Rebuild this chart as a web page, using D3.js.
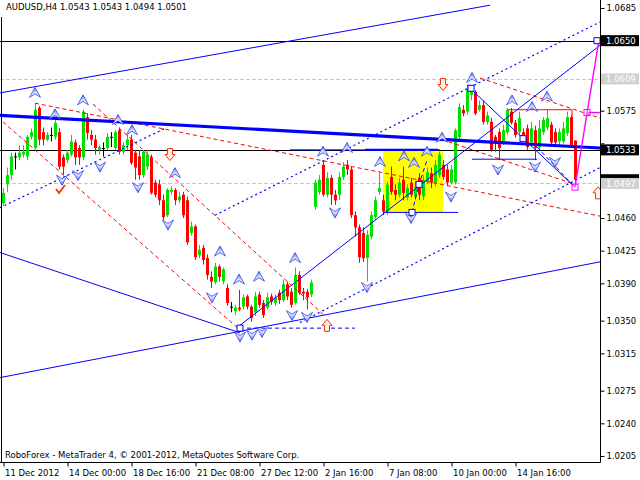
<!DOCTYPE html>
<html><head><meta charset="utf-8">
<script src="https://cdn.jsdelivr.net/npm/d3@7"></script>
<style>body{margin:0;background:#fff}svg{display:block}text{font-family:"DejaVu Sans",sans-serif;font-size:8.5px}</style>
</head><body><svg id="c" width="640" height="480"></svg>
<script>
// ---- data ----
const symbolTitle = "AUDUSD,H4  1.0543 1.0543 1.0494 1.0501";
const footerText = "RoboForex - MetaTrader 4, \u00a9 2001-2012, MetaQuotes Software Corp.";
const dateLabels = ["11 Dec 2012","14 Dec 00:00","18 Dec 16:00","21 Dec 08:00","27 Dec 12:00","2 Jan 16:00","7 Jan 08:00","10 Jan 00:00","14 Jan 16:00"];
const dateBars = [0,16,32,48,64,80,96,112,128];
const priceTicks = [1.0685,1.0650,1.0610,1.0575,1.0540,1.0500,1.0460,1.0425,1.0390,1.0350,1.0315,1.0275,1.0240,1.0205];
const hiddenTicks = [1.0650,1.0610,1.0540,1.0500];

const open = [1.0476,1.0496,1.0506,1.0526,1.0525,1.0528,1.0526,1.0547,1.0535,1.0578,
1.0552,1.0544,1.0549,1.0547,1.0552,1.0525,1.0522,1.0528,1.0541,1.0535,
1.0525,1.0568,1.0549,1.0544,1.0533,1.0535,1.0535,1.0547,1.0535,1.0554,
1.0531,1.0538,1.0544,1.0530,1.0526,1.0506,1.0515,1.0525,1.0498,1.0496,
1.0479,1.0463,1.0488,1.0490,1.0479,1.0485,1.0479,1.0444,1.0451,1.0420,
1.0428,1.0417,1.0397,1.0391,1.0408,1.0392,1.0385,1.0365,1.0360,1.0364,
1.0365,1.0376,1.0365,1.0359,1.0378,1.0369,1.0364,1.0376,1.0369,1.0380,
1.0372,1.0389,1.0381,1.0369,1.0399,1.0381,1.0381,1.0378,1.0472,1.0488,
1.0517,1.0485,1.0503,1.0485,1.0485,1.0504,1.0517,1.0512,1.0463,1.0450,
1.0444,1.0417,1.0440,1.0461,1.0488,1.0479,1.0467,1.0504,1.0490,1.0485,
1.0501,1.0482,1.0498,1.0483,1.0503,1.0483,1.0499,1.0508,1.0498,1.0506,
1.0517,1.0512,1.0498,1.0498,1.0547,1.0576,1.0574,1.0592,1.0595,1.0576,
1.0581,1.0563,1.0563,1.0547,1.0552,1.0542,1.0552,1.0574,1.0562,1.0552,
1.0552,1.0556,1.0541,1.0554,1.0536,1.0552,1.0557,1.0560,1.0552,1.0542,
1.0542,1.0551,1.0568,1.0543];
const high = [1.0492,1.0514,1.0530,1.0530,1.0538,1.0538,1.0549,1.0556,1.0583,1.0580,
1.0557,1.0552,1.0557,1.0567,1.0556,1.0528,1.0533,1.0549,1.0544,1.0538,
1.0576,1.0572,1.0554,1.0549,1.0538,1.0541,1.0551,1.0552,1.0554,1.0557,
1.0541,1.0549,1.0549,1.0533,1.0533,1.0533,1.0533,1.0528,1.0501,1.0501,
1.0485,1.0492,1.0494,1.0492,1.0488,1.0488,1.0483,1.0456,1.0453,1.0431,
1.0431,1.0421,1.0403,1.0412,1.0410,1.0407,1.0389,1.0370,1.0367,1.0383,
1.0378,1.0378,1.0367,1.0381,1.0381,1.0372,1.0380,1.0379,1.0378,1.0383,
1.0394,1.0392,1.0385,1.0407,1.0403,1.0385,1.0384,1.0394,1.0501,1.0506,
1.0521,1.0509,1.0506,1.0490,1.0509,1.0520,1.0522,1.0515,1.0467,1.0453,
1.0450,1.0447,1.0467,1.0483,1.0509,1.0485,1.0499,1.0515,1.0496,1.0503,
1.0515,1.0496,1.0503,1.0499,1.0508,1.0506,1.0514,1.0514,1.0522,1.0531,
1.0522,1.0517,1.0517,1.0556,1.0583,1.0581,1.0603,1.0599,1.0597,1.0586,
1.0586,1.0574,1.0567,1.0549,1.0556,1.0560,1.0578,1.0578,1.0565,1.0574,
1.0556,1.0560,1.0563,1.0559,1.0565,1.0568,1.0576,1.0563,1.0556,1.0556,
1.0563,1.0574,1.0570,1.0543];
const low = [1.0473,1.0488,1.0501,1.0512,1.0522,1.0525,1.0522,1.0544,1.0533,1.0538,
1.0538,1.0542,1.0542,1.0544,1.0512,1.0506,1.0519,1.0526,1.0517,1.0517,
1.0522,1.0544,1.0538,1.0528,1.0528,1.0526,1.0533,1.0536,1.0533,1.0528,
1.0528,1.0533,1.0517,1.0501,1.0501,1.0503,1.0512,1.0485,1.0482,1.0474,
1.0458,1.0461,1.0485,1.0474,1.0476,1.0460,1.0431,1.0441,1.0415,1.0417,
1.0410,1.0394,1.0385,1.0389,1.0392,1.0389,1.0366,1.0359,1.0356,1.0360,
1.0362,1.0362,1.0349,1.0355,1.0364,1.0353,1.0362,1.0367,1.0366,1.0368,
1.0370,1.0372,1.0364,1.0367,1.0378,1.0372,1.0362,1.0375,1.0469,1.0485,
1.0483,1.0482,1.0474,1.0474,1.0479,1.0501,1.0506,1.0460,1.0440,1.0412,
1.0413,1.0392,1.0437,1.0458,1.0485,1.0463,1.0463,1.0485,1.0479,1.0482,
1.0479,1.0479,1.0482,1.0479,1.0479,1.0479,1.0496,1.0492,1.0494,1.0503,
1.0501,1.0494,1.0496,1.0496,1.0544,1.0569,1.0571,1.0586,1.0570,1.0574,
1.0560,1.0560,1.0531,1.0531,1.0522,1.0538,1.0549,1.0560,1.0546,1.0549,
1.0542,1.0533,1.0537,1.0522,1.0533,1.0549,1.0554,1.0536,1.0537,1.0538,
1.0540,1.0548,1.0536,1.0494];
const close = [1.0487,1.0506,1.0526,1.0526,1.0530,1.0531,1.0547,1.0552,1.0576,1.0544,
1.0544,1.0549,1.0549,1.0562,1.0515,1.0515,1.0530,1.0542,1.0525,1.0525,
1.0574,1.0551,1.0544,1.0535,1.0536,1.0535,1.0547,1.0547,1.0552,1.0531,
1.0538,1.0544,1.0519,1.0514,1.0506,1.0531,1.0528,1.0487,1.0485,1.0479,
1.0461,1.0490,1.0490,1.0479,1.0483,1.0463,1.0434,1.0451,1.0418,1.0426,
1.0415,1.0399,1.0392,1.0408,1.0397,1.0405,1.0369,1.0365,1.0364,1.0362,
1.0375,1.0365,1.0353,1.0376,1.0367,1.0356,1.0375,1.0370,1.0375,1.0372,
1.0389,1.0376,1.0367,1.0399,1.0380,1.0379,1.0375,1.0391,1.0498,1.0501,
1.0485,1.0503,1.0485,1.0479,1.0504,1.0515,1.0512,1.0463,1.0450,1.0418,
1.0417,1.0442,1.0463,1.0479,1.0492,1.0467,1.0496,1.0488,1.0485,1.0498,
1.0487,1.0492,1.0485,1.0493,1.0485,1.0501,1.0509,1.0498,1.0517,1.0528,
1.0504,1.0498,1.0512,1.0554,1.0579,1.0572,1.0597,1.0597,1.0572,1.0581,
1.0563,1.0570,1.0533,1.0542,1.0535,1.0554,1.0576,1.0562,1.0549,1.0567,
1.0546,1.0536,1.0556,1.0535,1.0556,1.0565,1.0567,1.0541,1.0541,1.0552,
1.0556,1.0568,1.0538,1.0501];

// chart objects as [bar, price] points
const blackLevels = [1.0650, 1.0533];
const grayLevels = [1.0609, 1.0497];
const yellowBox = [[95,1.0533],[110,1.0466]];
const thickBlueLines = [[[-0.75,1.0570],[149.25,1.0535]]];
const mediumBlueLines = [[[90.5,1.0533],[108.75,1.0533]]];
const solidBlueLines = [
  [[-0.75,1.0594],[121.75,1.0688]],
  [[-0.75,1.0289],[149.25,1.0413]],
  [[-0.75,1.0423],[59.25,1.0337]],
  [[59.25,1.0345],[149.25,1.0645]],
  [[117.25,1.0597],[143,1.0493]],
  [[117.25,1.0523],[133.5,1.0523]],
  [[71.75,1.0533],[109.25,1.0533]],
  [[95,1.0466],[113.75,1.0466]]
];
const dottedBlueLines = [
  [[-0.75,1.0471],[41,1.0557]],
  [[53,1.0463],[149.25,1.0670]],
  [[74.25,1.0348],[149.25,1.0514]]
];
const dashedBlueLines = [
  [[61,1.0342],[88,1.0342]],
  [[133.5,1.0536],[143,1.0493]],
  [[102.25,1.0466],[104,1.0496],[106,1.0522]]
];
const dashedRedLines = [
  [[8,1.0583],[149.25,1.0462]],
  [[0,1.0563],[59.25,1.0340]],
  [[22.5,1.0582],[80.5,1.0355]],
  [[119.25,1.0610],[149.25,1.0567]],
  [[109.75,1.0544],[143,1.0496]]
];
const solidRedLines = [[[126.25,1.0576],[142.25,1.0576],[142.25,1.0566]]];
const magentaLines = [[[143,1.0493],[149,1.0651]],[[146,1.0573],[149.25,1.0573]]];
const magentaSquares = [[143,1.0493],[146,1.0573]];
const blueSquares = [[59.25,1.0342],[104,1.0496],[102.25,1.0466],[130,1.0545],[117,1.0599],[148.5,1.0650]];
const upChevrons = [[8,1.0594],[20,1.0586],[13,1.0571],[28.75,1.0565],[32.25,1.0554],[43,1.0508],
  [54.25,1.0424],[59,1.0394],[64,1.0397],[73,1.0417],[80,1.0531],[86,1.0535],[94.25,1.0520],
  [100.25,1.0526],[102.75,1.0519],[106,1.0531],[109.75,1.0546],[117.25,1.0610],[127.25,1.0586],
  [132.25,1.0579],[136,1.0590]];
const downChevrons = [[14.75,1.0501],[18.75,1.0506],[24.25,1.0515],[33.75,1.0493],[41.25,1.0453],
  [52.25,1.0375],[59.25,1.0333],[62.25,1.0335],[64.75,1.0338],[72.25,1.0356],[76,1.0354],
  [83,1.0466],[91,1.0386],[102,1.0460],[112,1.0483],[123.75,1.0512],[133,1.0515],[138,1.0520]];
const redDownArrows = [[41.75,1.0528],[110,1.0603]];
const redUpArrows = [[81,1.0345],[148.75,1.0487]];
const checkMarks = [[14.25,1.0490]];
const bidPrice = 1.0501;

// ---- drawing ----
const svg = d3.select('#c');
const W = 600, H = 462;
const x = d3.scaleLinear().domain([0,143]).range([3,575]);
const y = d3.scaleLinear().domain([1.0205,1.0685]).range([456,8]);
const ln = d3.line().x(d=>x(d[0])).y(d=>y(d[1]));

const defs = svg.append('defs');
defs.append('clipPath').attr('id','clip').append('rect').attr('width',W).attr('height',H);
const g = svg.append('g').attr('clip-path','url(#clip)');

// yellow rectangle
g.append('rect')
  .attr('x',x(yellowBox[0][0])).attr('y',y(yellowBox[0][1]))
  .attr('width',x(yellowBox[1][0])-x(yellowBox[0][0]))
  .attr('height',y(yellowBox[1][1])-y(yellowBox[0][1]))
  .attr('fill','#ffff00');

// horizontal levels
g.selectAll('.gl').data(grayLevels).join('line')
  .attr('x1',0).attr('x2',W).attr('y1',d=>Math.round(y(d))+0.5).attr('y2',d=>Math.round(y(d))+0.5)
  .attr('stroke','#c8c8c8').attr('stroke-dasharray','4,2');
g.selectAll('.bl').data(blackLevels).join('line')
  .attr('x1',0).attr('x2',W).attr('y1',d=>Math.round(y(d))+0.5).attr('y2',d=>Math.round(y(d))+0.5)
  .attr('stroke','#000');

// candles
const idx = d3.range(open.length);
const col = i => close[i]>open[i] ? '#00e000' : (close[i]<open[i] ? '#ff0000' : '#000000');
g.selectAll('.wick').data(idx).join('line')
  .attr('x1',i=>x(i)+0.5).attr('x2',i=>x(i)+0.5)
  .attr('y1',i=>y(high[i])).attr('y2',i=>y(low[i]))
  .attr('stroke',col).attr('stroke-width',1);
g.selectAll('.body').data(idx).join('rect')
  .attr('x',i=>x(i)-1).attr('width',3)
  .attr('y',i=>Math.min(y(open[i]),y(close[i])))
  .attr('height',i=>Math.max(1,Math.abs(y(open[i])-y(close[i]))))
  .attr('fill',col);

// lines
function drawLines(data, stroke, width, dash){
  g.selectAll(null).data(data).join('path').attr('d',ln).attr('fill','none')
    .attr('stroke',stroke).attr('stroke-width',width).attr('stroke-dasharray',dash||null);
}
drawLines(dashedRedLines,'#ff0000',1,'4,3');
drawLines(solidRedLines,'#ff0000',1);
drawLines(dottedBlueLines,'#0000ff',1.2,'2,3');
drawLines(dashedBlueLines,'#0000ff',1,'4,3');
drawLines(solidBlueLines,'#0000ff',1);
drawLines(thickBlueLines,'#0000ff',3.2);
drawLines(mediumBlueLines,'#0000ff',2.2);
drawLines(magentaLines,'#ff00ff',1.4);

// squares
g.selectAll('.bsq').data(blueSquares).join('rect')
  .attr('x',d=>x(d[0])-3).attr('y',d=>y(d[1])-3).attr('width',6).attr('height',6)
  .attr('fill','#fff').attr('stroke','#0000ff').attr('stroke-width',1);
g.selectAll('.msq').data(magentaSquares).join('rect')
  .attr('x',d=>x(d[0])-3).attr('y',d=>y(d[1])-3).attr('width',6).attr('height',6)
  .attr('fill','#fff').attr('fill-opacity',0.3).attr('stroke','#ff00ff').attr('stroke-width',1);

// chevrons
function mkGrad(id, flip){
  const gr = defs.append('linearGradient').attr('id',id).attr('x1',0).attr('x2',0)
    .attr('y1',flip?1:0).attr('y2',flip?0:1);
  gr.append('stop').attr('offset','0').attr('stop-color','#5060e8');
  gr.append('stop').attr('offset','0.45').attr('stop-color','#c8d0ff');
  gr.append('stop').attr('offset','1').attr('stop-color','#ffffff');
}
mkGrad('cg',false); mkGrad('cg2',true);
g.selectAll('.uc').data(upChevrons).join('path')
  .attr('transform',d=>`translate(${x(d[0])},${y(d[1])})`)
  .attr('d','M0,-5.5L5.5,4.5L0,1L-5.5,4.5Z')
  .attr('fill','url(#cg)').attr('stroke','#3040e0').attr('stroke-width',0.8);
g.selectAll('.dc').data(downChevrons).join('path')
  .attr('transform',d=>`translate(${x(d[0])},${y(d[1])})`)
  .attr('d','M0,5.5L5.5,-4.5L0,-1L-5.5,-4.5Z')
  .attr('fill','url(#cg2)').attr('stroke','#3040e0').attr('stroke-width',0.8);

// red hollow arrows
g.selectAll('.rda').data(redDownArrows).join('path')
  .attr('transform',d=>`translate(${x(d[0])},${y(d[1])})`)
  .attr('d','M-2.5,-6L2.5,-6L2.5,0L5,0L0,6L-5,0L-2.5,0Z')
  .attr('fill','#fff0e8').attr('stroke','#ff3000').attr('stroke-width',1);
g.selectAll('.rua').data(redUpArrows).join('path')
  .attr('transform',d=>`translate(${x(d[0])},${y(d[1])})`)
  .attr('d','M-2.5,6L2.5,6L2.5,0L5,0L0,-6L-5,0L-2.5,0Z')
  .attr('fill','#fff0e8').attr('stroke','#ff3000').attr('stroke-width',1);
g.selectAll('.chk').data(checkMarks).join('path')
  .attr('transform',d=>`translate(${x(d[0])},${y(d[1])})`)
  .attr('d','M-4,-1L-1,3L5,-5').attr('fill','none')
  .attr('stroke','#ff3000').attr('stroke-width',1.8);

// frame
svg.append('line').attr('x1',1.5).attr('x2',1.5).attr('y1',17).attr('y2',H).attr('stroke','#000');
svg.append('line').attr('x1',W+0.5).attr('x2',W+0.5).attr('y1',0).attr('y2',H+0.5).attr('stroke','#000');
svg.append('line').attr('x1',0).attr('x2',W+0.5).attr('y1',H+0.5).attr('y2',H+0.5).attr('stroke','#000');

// price axis (labels under the level boxes are left out)
const ya = svg.append('g').attr('transform',`translate(${W+0.5},0)`)
  .call(d3.axisRight(y).tickValues(priceTicks)
    .tickFormat(d=>hiddenTicks.includes(d)?'':d3.format('.4f')(d))
    .tickSize(4).tickSizeOuter(0).tickPadding(2));
ya.select('.domain').remove();
ya.selectAll('text').attr('fill','#000').style('font-family','DejaVu Sans').style('font-size','8.5px');
ya.selectAll('line').attr('stroke','#000');

// price label boxes
function priceBox(p, fill, withText){
  const cy = y(p);
  svg.append('rect').attr('x',W+1).attr('y',cy-5.5).attr('width',38).attr('height',11).attr('fill',fill);
  if(withText) svg.append('text').attr('x',W+6).attr('y',cy+3.2).attr('fill','#fff').text(d3.format('.4f')(p));
}
priceBox(blackLevels[0],'#000',true);
priceBox(grayLevels[0],'#d0d0d0',true);
priceBox(blackLevels[1],'#000',true);
priceBox(bidPrice,'#000',false);
priceBox(grayLevels[1],'#d0d0d0',true);

// time axis
const xa = svg.append('g').attr('transform',`translate(0.5,${H+0.5})`)
  .call(d3.axisBottom(x).tickValues(dateBars).tickFormat((d,i)=>dateLabels[i]).tickSize(4).tickSizeOuter(0));
xa.select('.domain').remove();
xa.selectAll('line').attr('stroke','#000');
xa.selectAll('text').attr('text-anchor','start').attr('x',1).attr('dy',null).attr('y',13)
  .attr('fill','#000').style('font-family','DejaVu Sans').style('font-size','8.5px');

// texts
svg.append('text').attr('x',6).attr('y',10).attr('fill','#000').text(symbolTitle);
svg.append('text').attr('x',5).attr('y',458).attr('fill','#000').text(footerText);
</script></body></html>
